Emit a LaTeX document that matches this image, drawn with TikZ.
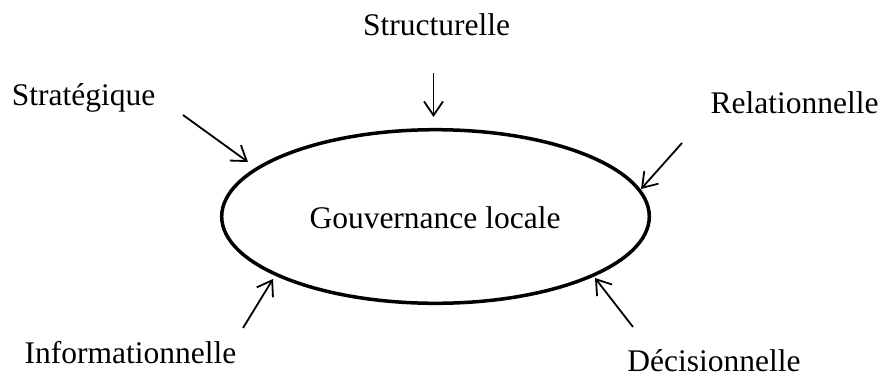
\documentclass[tikz,border=0pt]{standalone}
\usepackage{fontspec}
\setmainfont{Liberation Serif}
\usetikzlibrary{arrows.meta,shapes.geometric}
\begin{document}
\begin{tikzpicture}[x=1pt,y=-1pt,
  lbl/.style={anchor=base,inner sep=0pt,font=\fontsize{31.5}{36}\selectfont},
  conn/.style={line width=1.8pt,-{Straight Barb[length=14pt,width=19pt,line width=1.8pt]}}]
\useasboundingbox (0,0) rectangle (883,378);
\draw[line width=3.5pt] (435.5,216.5) ellipse [x radius=213.8pt, y radius=86.8pt];
\node[lbl] (gl) at (435,228) {Gouvernance locale};
\node[lbl] (st) at (436.5,35) {Structurelle};
\node[lbl] (sg) at (83.5,105) {Stratégique};
\node[lbl] (re) at (794.5,113) {Relationnelle};
\node[lbl] (in) at (130.5,363) {Informationnelle};
\node[lbl] (de) at (714,371) {Décisionnelle};
\coordinate (stA) at (433.5,73);  \coordinate (stB) at (433.5,117);
\coordinate (sgA) at (183,115);   \coordinate (sgB) at (248,162);
\coordinate (reA) at (682,143);   \coordinate (reB) at (641,189);
\coordinate (inA) at (243,328);   \coordinate (inB) at (273,279);
\coordinate (deA) at (633,327);   \coordinate (deB) at (595,278);
\draw[conn] (stA) -- (stB);
\draw[conn] (sgA) -- (sgB);
\draw[conn] (reA) -- (reB);
\draw[conn] (inA) -- (inB);
\draw[conn] (deA) -- (deB);
\end{tikzpicture}
\end{document}
